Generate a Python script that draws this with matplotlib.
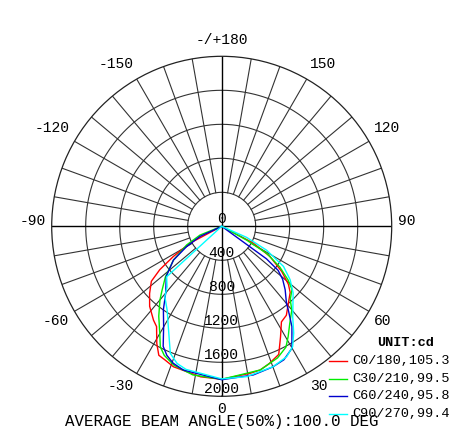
import numpy as np
import matplotlib
matplotlib.use('Agg')
import matplotlib.pyplot as plt
from matplotlib.lines import Line2D

# candela curves, gamma in degrees (negative = left half-plane)
c0_ang = [-90, -62, -58, -55, -52, -47, -42, -36, -33, -29, -26, -23, -19, -8, 0,
          11, 15, 19, 24, 28, 32, 36, 46, 49, 53, 58, 62, 90]
c0_cd = [0, 423, 672, 889, 1050, 1160, 1267, 1365, 1407, 1575, 1688, 1708, 1747, 1788, 1800,
         1761, 1750, 1710, 1650, 1474, 1326, 1294, 1120, 1040, 885, 670, 420, 0]

c30_ang = [-90, -68, -62, -55, -48, -43, -40, -35, -30, -27, -24, -19, -11, 0,
           15, 23, 28, 31, 35, 40, 43, 48, 51, 55, 59, 61, 90]
c30_cd = [0, 275, 467, 693, 892, 1029, 1130, 1291, 1457, 1591, 1662, 1728, 1781, 1800,
          1750, 1682, 1610, 1517, 1396, 1283, 1182, 1113, 1007, 834, 617, 335, 0]

c60_ang = [-90, -65, -60, -55, -48, -40, -35, -30, -26, -23, -19.5, -15, 0,
           12, 20, 25, 30, 31, 35, 38.5, 40, 45, 49, 52, 54, 90]
c60_cd = [0, 280, 476, 693, 877, 1025, 1196, 1366, 1571, 1650, 1709, 1750, 1805,
          1788, 1760, 1732, 1655, 1604, 1440, 1259, 1186, 1056, 950, 842, 650, 0]

c90_ang = [-90, -47.5, -42, -39, -33, -28, -24, -22, -18, -14, 0,
           9.4, 20, 26.5, 30.5, 34, 38, 47, 52, 57, 62, 66, 90]
c90_cd = [0, 878, 961, 1063, 1178, 1338, 1508, 1613, 1697, 1735, 1795,
          1793, 1759, 1714, 1644, 1515, 1357, 1149, 1022, 867, 598, 321, 0]

names = ['C0/180', 'C30/210', 'C60/240', 'C90/270']
beam = [105.3, 99.5, 95.8, 99.4]
colors = ['#ff0000', '#00ee00', '#0000cc', '#00ffff']

rings = [400, 800, 1200, 1600, 2000]
ang_labels = [0, 30, 60, 90, 120, 150, 180, -150, -120, -90, -60, -30]
avg_beam = 100.0

font = 'Liberation Mono'
W, H = 467, 442
fig = plt.figure(figsize=(W/100, H/100), dpi=100)
cx, cy, R = 221.7, 226.3, 170
ax = fig.add_axes([(cx-R)/W, (H-cy-R)/H, 2*R/W, 2*R/H], projection='polar')
ax.set_theta_zero_location('S')
ax.set_theta_direction(1)
ax.set_rlim(0, 2000)
ax.grid(False)
ax.set_xticks([])
ax.set_yticks([])
ax.spines['polar'].set_color('#222222')
ax.spines['polar'].set_linewidth(0.9)

tt = np.linspace(0, 2*np.pi, 361)
for r in rings[:-1]:
    ax.plot(tt, np.full_like(tt, r), color='#333333', lw=0.8, zorder=1)
for a in range(0, 360, 10):
    t = np.deg2rad(a)
    if a % 90 == 0:
        ax.plot([t, t], [0, 2000], color='black', lw=1.0, zorder=1)
    else:
        ax.plot([t, t], [400, 2000], color='#333333', lw=0.8, zorder=1)

for ang, cd, col in zip([c0_ang, c30_ang, c60_ang, c90_ang],
                        [c0_cd, c30_cd, c60_cd, c90_cd], colors):
    ax.plot(np.deg2rad(ang), cd, color=col, lw=1.0, zorder=3)

# radial labels along the 0 deg axis
ax.text(0, 0, '0', ha='center', va='bottom', fontsize=10.5,
        family=font, zorder=4)
for r in rings:
    ax.text(0, r, str(r), ha='center', va='bottom', fontsize=10.5,
            family=font, zorder=4)

# angle labels
for a in ang_labels:
    lab = '-/+180' if a == 180 else str(a)
    if a in (0, 180):
        ha = 'center'
    elif a > 0:
        ha = 'left'
    else:
        ha = 'right'
    if abs(a) < 90:
        va, dy = 'top', 0
    elif abs(a) == 90:
        va, dy = 'center', 5
    else:
        va, dy = 'bottom', 3
    ax.annotate(lab, (np.deg2rad(a), 2070), xytext=(0, dy),
                textcoords='offset pixels', ha=ha, va=va, fontsize=10.5,
                family=font, annotation_clip=False)

# legend
fig.text(376.7/W, 1-343.3/H, 'UNIT:cd', fontsize=9.7, family=font,
         weight='bold', ha='left', va='center')
for i, (n, b, col) in enumerate(zip(names, beam, colors)):
    y = 1 - (361 + 17.7*i)/H
    fig.add_artist(Line2D([329.3/W, 346.7/W], [y, y], color=col, lw=1.0))
    fig.text(352.7/W, y, '{},{}'.format(n, b), fontsize=9.7, family=font,
             ha='left', va='center')

fig.text(cx/W, 1-421.7/H, 'AVERAGE BEAM ANGLE(50%):{:.1f} DEG'.format(avg_beam),
         fontsize=11.4, family=font, ha='center', va='center')

fig.savefig('out.png', dpi=100)
